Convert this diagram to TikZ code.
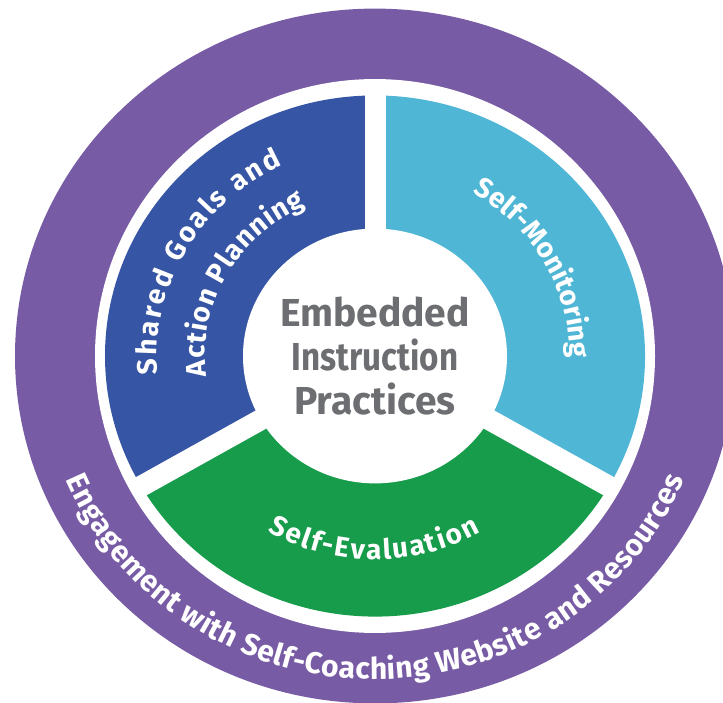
\documentclass[tikz,border=0pt]{standalone}
\usepackage{fontspec}
\setmainfont{Fira Sans}
\usetikzlibrary{decorations.text}

\definecolor{ringpurple}{HTML}{775BA5}
\definecolor{goalblue}{HTML}{3755A5}
\definecolor{monitorcyan}{HTML}{50B6D5}
\definecolor{evalgreen}{HTML}{169C4A}
\definecolor{titlegray}{HTML}{6D6E71}

\newcommand{\labelfont}{\bfseries\fontsize{28}{28}\selectfont}
\newcommand{\ringfont}{\bfseries\fontsize{30}{30}\selectfont}

\tikzset{
  arclabel/.style={decorate, decoration={text along path, text align=fit to path,
      text color=white, text={#1}}},
  gapline/.style={white, line width=21pt},
}

\begin{document}
\begin{tikzpicture}[x=1pt, y=1pt]
    \fill[white] (0, 0) rectangle (723, 702);
    \useasboundingbox (0, 0) rectangle (723, 702);

    \begin{scope}[shift={(375, 346)}, y=0.965pt]
    \fill[ringpurple] (0, 0) circle[radius=360];
    \fill[white] (0, 0) circle[x radius=280, y radius=287];

    \fill[goalblue] (0, 0) -- (90:270) arc[start angle=90, end angle=210, radius=270] -- cycle;
    \fill[evalgreen] (0, 0) -- (210:270) arc[start angle=210, end angle=330, radius=270] -- cycle;
    \fill[monitorcyan] (0, 0) -- (330:270) arc[start angle=330, end angle=450, radius=270] -- cycle;

    \foreach \a in {90, 210, 330}
        \draw[gapline] (0, 0) -- (\a:276);
    \fill[white] (0, 0) circle[radius=132];

    \path[arclabel={|\labelfont|Shared Goals and}] (185:218) arc[start angle=185, end angle=115, radius=218];
    \path[arclabel={|\labelfont|Action Planning}] (187:170) arc[start angle=187, end angle=114, radius=170];
    \path[arclabel={|\labelfont|Self-Monitoring}] (60:195) arc[start angle=60, end angle=0, radius=195];
    \path[arclabel={|\labelfont|Self-Evaluation}] (239.5:211) arc[start angle=239.5, end angle=300, radius=211];
    \path[arclabel={|\ringfont|Engagement with Self-Coaching Website and Resources}] (202.5:335) arc[start angle=202.5, end angle=337.5, radius=335];

    \node[font=\bfseries\fontsize{39}{44}\selectfont, text=titlegray, align=center] (title) at (0, 0) {Embedded\\\scalebox{0.85}[1]{Instruction}\\Practices};
    \end{scope}
  \end{tikzpicture}
\end{document}
